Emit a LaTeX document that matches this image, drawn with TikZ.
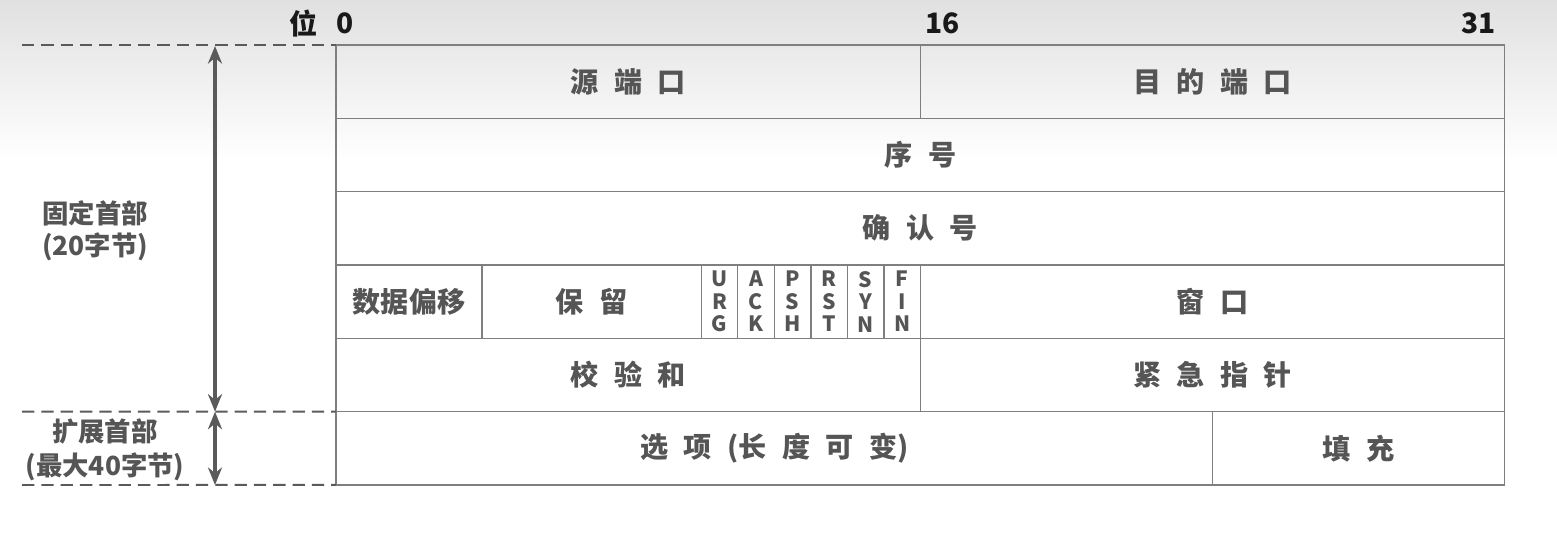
\documentclass[tikz,border=0pt]{standalone}
\usepackage{fontspec}
\usepackage{tikz}
\usetikzlibrary{positioning, calc}
\usetikzlibrary{arrows.meta}
\newfontfamily\cjk{Noto Sans CJK SC}
\definecolor{linegray}{HTML}{7F7F7F}
\definecolor{txtgray}{HTML}{555555}
\definecolor{arrgray}{HTML}{5A5A5A}
\newcommand{\gap}{\hspace{0.55em}}

\tikzset{
  cell/.style={draw=linegray, line width=0.8pt, anchor=north west, inner sep=0pt, outer sep=0pt,
    minimum width=#1*0.7306cm, minimum height=1.4666cm,
    font=\cjk\bfseries\fontsize{16}{19}\selectfont, text=txtgray},
  flag/.style={cell=1, align=center, font=\cjk\bfseries\fontsize{12}{12.8}\selectfont},
  bitnum/.style={font=\cjk\bfseries\fontsize{16}{19}\selectfont, text=black!90, inner sep=0pt},
  side/.style={font=\cjk\bfseries\fontsize{15}{18}\selectfont, text=txtgray, align=center},
  dashline/.style={draw=arrgray, line width=1.1pt, dash pattern=on 7pt off 4pt},
  span/.style={arrgray, line width=2.2pt, {Stealth[length=10pt,width=8pt]}-{Stealth[length=10pt,width=8pt]}}
}

\begin{document}
\begin{tikzpicture}[x=0.02cm, y=-0.02cm, line cap=butt, >=Stealth]

  %--- sfondo
  \useasboundingbox (0,0) rectangle (1557,532);
  \shade[top color=black!12, bottom color=white] (0,0) rectangle (1557,160);

  %--- riga 1: porte
  \node[cell=16] (sport) at (336,45) {源\gap 端\gap 口};
  \node[cell=16] (dport) at (sport.north east) {目\gap 的\gap 端\gap 口};

  %--- righe 2 e 3
  \node[cell=32] (seq) at (sport.south west) {序\gap 号};
  \node[cell=32] (ack) at (seq.south west) {确\gap 认\gap 号};

  %--- riga 4: offset, riservato, flag, finestra
  \node[cell=4] (off) at (ack.south west) {数据偏移};
  \node[cell=6] (rsv) at (off.north east) {保\gap 留};
  \node[flag] (urg) at (rsv.north east) {U\\R\\G};
  \node[flag] (ackf) at (urg.north east) {A\\C\\K};
  \node[flag] (psh) at (ackf.north east) {P\\S\\H};
  \node[flag] (rst) at (psh.north east) {R\\S\\T};
  \node[flag] (syn) at (rst.north east) {S\\Y\\N};
  \node[flag] (fin) at (syn.north east) {F\\I\\N};
  \node[cell=16] (win) at (fin.north east) {窗\gap 口};

  %--- riga 5
  \node[cell=16] (csum) at (off.south west) {校\gap 验\gap 和};
  \node[cell=16] (urgp) at (csum.north east) {紧\gap 急\gap 指\gap 针};

  %--- riga 6: opzioni
  \node[cell=24] (opt) at (csum.south west) {选\gap 项\gap (长\gap 度\gap 可\gap 变)};
  \node[cell=8] (pad) at (opt.north east) {填\gap 充};

  %--- numeri dei bit
  \node[bitnum, above=6pt of sport.north west, xshift=5pt] (b0) {0};
  \node[bitnum, left=10pt of b0] (bit) {位};
  \node[bitnum, above=6pt of dport.north west, xshift=12.5pt] (b16) {16};
  \node[bitnum, above=6pt of dport.north east, xshift=-15pt] (b31) {31};

  %--- linee tratteggiate
  \coordinate (t0) at (22,45);
  \coordinate (t1) at (22,411.7);
  \coordinate (t2) at (22,485);
  \draw[dashline] (t0) -- (sport.north west);
  \draw[dashline] (t1) -- (opt.north west);
  \draw[dashline] (t2) -- (opt.south west);

  %--- frecce
  \coordinate (a0) at (215,46);
  \coordinate (a1) at (215,411.7);
  \coordinate (a2) at (215,485);
  \draw[span] (a0) -- (a1);
  \draw[span] (a1) -- (a2);

  %--- etichette laterali
  \node[side] (fixed) at (95,231) {固定首部\\(20字节)};
  \node[side, font=\cjk\bfseries\fontsize{15}{19.5}\selectfont] (ext) at (105,450) {扩展首部\\(最大40字节)};
\end{tikzpicture}
\end{document}
